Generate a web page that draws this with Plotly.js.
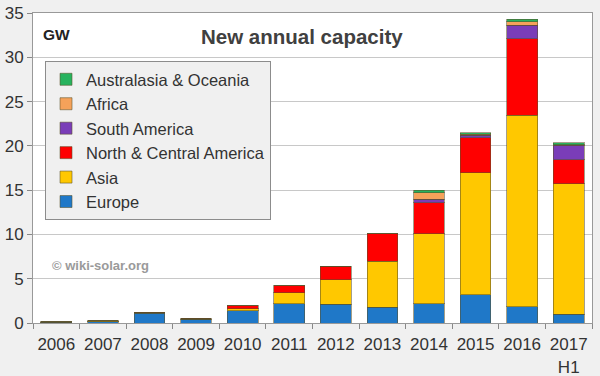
<!DOCTYPE html>
<html><head><meta charset="utf-8">
<script src="https://cdn.plot.ly/plotly-3.0.1.min.js"></script>
<style>html,body{margin:0;padding:0;background:#f0f0f0;}#c{width:600px;height:376px;}</style>
</head><body><div id="c"></div>
<script>
const years = ["2006","2007","2008","2009","2010","2011","2012","2013","2014","2015","2016","2017<br>H1"];
const europe      = [0.08,0.12,1.10,0.45,1.40,2.20,2.10,1.80,2.15,3.20,1.85,1.00];
const asia        = [0.02,0.08,0.05,0.00,0.20,1.20,2.80,5.15,7.95,13.75,21.60,14.75];
const ncAmerica   = [0.05,0.06,0.05,0.08,0.35,0.80,1.50,3.15,3.45,3.95,8.65,2.70];
const southAmerica= [0.00,0.00,0.00,0.00,0.00,0.00,0.00,0.00,0.45,0.30,1.50,1.60];
const africa      = [0.00,0.00,0.00,0.00,0.00,0.00,0.00,0.00,0.70,0.10,0.40,0.05];
const oceania     = [0.00,0.00,0.00,0.00,0.00,0.00,0.00,0.00,0.30,0.20,0.30,0.25];

const names = ["Europe","Asia","North & Central America","South America","Africa","Australasia & Oceania"];
const series = [europe, asia, ncAmerica, southAmerica, africa, oceania];
const colors = ["#1f78c8","#ffc800","#ff0000","#7a3db8","#f5a25a","#27b35e"];

const traces = series.map((s,i)=>({
  type:"bar", x:years, y:s, name:names[i],
  marker:{color:colors[i], line:{color:"rgba(90,80,40,0.55)", width:1}},
  hoverinfo:"skip"
}));

const layout = {
  width:600, height:376,
  paper_bgcolor:"#f0f0f0", plot_bgcolor:"#ffffff",
  margin:{l:33,r:8,t:13,b:53},
  barmode:"stack", bargap:0.34,
  font:{family:"Liberation Sans, Arial, sans-serif", color:"#333333", size:17},
  showlegend:true,
  legend:{traceorder:"reversed", x:0.0215, y:0.845, xanchor:"left", yanchor:"top",
    bgcolor:"#f0f0f0", bordercolor:"#8c8c8c", borderwidth:1,
    font:{size:16.5, color:"#333333"}, itemwidth:30},
  xaxis:{type:"category", tickson:"boundaries", ticks:"outside", ticklen:5, tickcolor:"#888",
    tickangle:0, ticklabelstandoff:6, showline:true, linecolor:"#999", mirror:true, showgrid:false,
    tickfont:{size:17, color:"#333"}},
  yaxis:{range:[0,35], dtick:5, ticks:"outside", ticklen:5, tickcolor:"#888",
    showline:true, linecolor:"#999", mirror:true, gridcolor:"#c8c8c8", gridwidth:1,
    zeroline:false, tickfont:{size:17, color:"#333"}},
  annotations:[
    {text:"<b>New annual capacity</b>", xref:"paper", yref:"paper", x:0.482, y:0.925, xanchor:"center", yanchor:"middle", showarrow:false, font:{size:20.5,color:"#404040"}},
    {text:"<b>GW</b>", xref:"paper", yref:"paper", x:0.014, y:0.93, xanchor:"left", yanchor:"middle", showarrow:false, font:{size:15.5,color:"#222"}},
    {text:"<b>© wiki-solar.org</b>", xref:"paper", yref:"paper", x:0.03, y:0.187, xanchor:"left", yanchor:"middle", showarrow:false, font:{size:13,color:"#9a9a9a"}}
  ]
};
Plotly.newPlot("c", traces, layout, {staticPlot:true});
</script></body></html>
